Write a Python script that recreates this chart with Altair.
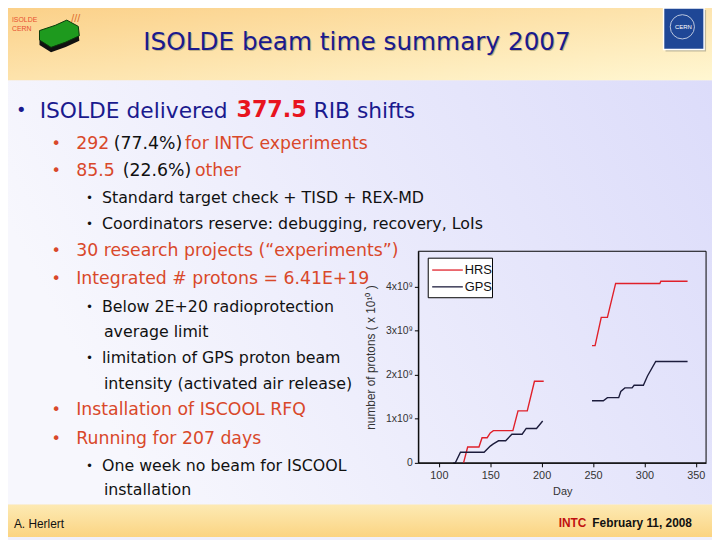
import altair as alt
import pandas as pd

# ---------------- data ----------------
hrs_a_day = [124, 128, 139, 142, 147, 150, 153, 172, 177, 186, 193, 202]
hrs_a_val = [0.0, 0.36, 0.36, 0.57, 0.57, 0.68, 0.73, 0.73, 1.18, 1.18, 1.85, 1.85]
hrs_b_day = [249, 252, 258, 264, 272, 315, 316, 342]
hrs_b_val = [2.66, 2.66, 3.30, 3.30, 4.07, 4.07, 4.12, 4.12]
gps_a_day = [114, 116, 121, 144, 150, 153, 158, 165, 171, 181, 185, 195, 201]
gps_a_val = [0.0, 0.0, 0.24, 0.24, 0.38, 0.43, 0.50, 0.50, 0.65, 0.65, 0.78, 0.78, 0.95]
gps_b_day = [249, 260, 264, 275, 277, 281, 288, 290, 299, 303, 311, 342]
gps_b_val = [1.41, 1.41, 1.48, 1.48, 1.62, 1.70, 1.70, 1.76, 1.76, 1.97, 2.30, 2.30]

series_names = ["HRS", "GPS"]
series_colors = ["#e0202a", "#1c1c3c"]
x_ticks = [100, 150, 200, 250, 300, 350]
y_ticks = [0, 1, 2, 3, 4]

rows = []
for s, seg, days, vals in [("HRS", "a", hrs_a_day, hrs_a_val), ("HRS", "b", hrs_b_day, hrs_b_val),
                           ("GPS", "a", gps_a_day, gps_a_val), ("GPS", "b", gps_b_day, gps_b_val)]:
    for d, v in zip(days, vals):
        rows.append({"series": s, "seg": s + seg, "day": d, "protons": v})
df = pd.DataFrame(rows)

# ---------------- layout helpers (page coordinates) ----------------
PX, PY = 423, 251   # plot origin on page
W, H = 291, 214
one = pd.DataFrame({"k": [0]})

NAVY = "#1a1a8e"
ORANGE = "#d9482a"
RED = "#e8141e"
SANS = "DejaVu Sans"
ARIAL = "Liberation Sans"


def X(px):
    return px - PX


def Y(py):
    return py - PY


def text(s, x, y, size, color, weight="normal", font=SANS, align="left"):
    return alt.Chart(one).mark_text(text=s, fontSize=size, color=color, fontWeight=weight,
                                    font=font, align=align, baseline="middle").encode(
        x=alt.value(X(x)), y=alt.value(Y(y)))


def rect(x1, y1, x2, y2, color, **kw):
    return alt.Chart(one).mark_rect(color=color, **kw).encode(
        x=alt.value(X(x1)), x2=alt.value(X(x2)), y=alt.value(Y(y1)), y2=alt.value(Y(y2)))


def grad(c0, c1, x1=0, y1=0, x2=1, y2=0):
    return alt.LinearGradient(gradient="linear", x1=x1, y1=y1, x2=x2, y2=y2,
                              stops=[alt.GradientStop(color=c0, offset=0),
                                     alt.GradientStop(color=c1, offset=1)])


layers = []
# backgrounds
layers.append(rect(0, 78, 720, 507, grad("#f7f7fd", "#dcdcfa", 0, 0.3, 1, 0)))
layers.append(rect(0, 0, 720, 78, grad("#fbcf86", "#fff7d2", 0, 0, 1, 1)))
layers.append(rect(0, 507, 720, 540, grad("#fdeab4", "#fbd482", 0, 0, 0, 1)))

# logos
layers.append(text("ISOLDE", 12, 17, 7, "#e85030", font=ARIAL))
layers.append(text("CERN", 12, 26, 7, "#e85030", font=ARIAL))
layers.append(text("///", 72, 16, 11, "#e07030", font=ARIAL))
slab = "M -0.95 -0.15 L -0.2 -0.4 L 0.35 -0.65 L 0.9 -0.35 L 0.95 0.1 L 0.3 0.4 L -0.4 0.65 L -0.95 0.3 Z"
layers.append(alt.Chart(one).mark_point(shape=slab, size=1800, filled=True, fill="#111111",
                                         opacity=1).encode(
    x=alt.value(X(60)), y=alt.value(Y(36))))
layers.append(alt.Chart(one).mark_point(shape=slab, size=1800, filled=True, fill="#1e9a1e",
                                         stroke="#0a3a0a", strokeWidth=1, opacity=1).encode(
    x=alt.value(X(60)), y=alt.value(Y(31))))
layers.append(rect(673, 7, 714, 49, "#c0b89a"))
layers.append(rect(671, 5, 712, 47, "#1f4796", stroke="white", strokeWidth=1.5))
layers.append(alt.Chart(one).mark_point(shape="circle", size=600, stroke="white",
                                         strokeWidth=1, filled=False).encode(
    x=alt.value(X(690)), y=alt.value(Y(24))))
layers.append(text("CERN", 691, 24, 6, "white", font=ARIAL, align="center"))

# title
title = "ISOLDE beam time summary 2007"
layers.append(text(title, 362, 40, 25, "#c4b384", align="center"))
layers.append(text(title, 361, 39, 25, NAVY, align="center"))

# slide bullets
layers += [
    text("•", 16, 109, 18, NAVY),
    text("ISOLDE delivered", 40, 109, 22, NAVY),
    text("377.5", 239, 108, 22.5, RED, weight="bold"),
    text("RIB shifts", 317, 109, 22, NAVY),

    text("•", 52, 143, 16, ORANGE),
    text("292", 77, 143, 17.5, ORANGE),
    text("(77.4%)", 115, 143, 17.5, "#111111"),
    text("for INTC experiments", 187, 143, 17.5, ORANGE),
    text("•", 52, 170, 16, ORANGE),
    text("85.5", 77, 170, 17.5, ORANGE),
    text("(22.6%)", 124, 170, 17.5, "#111111"),
    text("other", 197, 170, 17.5, ORANGE),

    text("•", 87, 197, 12, "#111111"),
    text("Standard target check + TISD + REX-MD", 103, 197, 16, "#111111"),
    text("•", 87, 223, 12, "#111111"),
    text("Coordinators reserve: debugging, recovery, LoIs", 103, 223, 16, "#111111"),

    text("•", 52, 251, 16, ORANGE),
    text("30 research projects (“experiments”)", 77, 251, 17.5, ORANGE),
    text("•", 52, 279, 16, ORANGE),
    text("Integrated # protons = 6.41E+19", 77, 279, 17.5, ORANGE),

    text("•", 87, 307, 12, "#111111"),
    text("Below 2E+20 radioprotection", 103, 307, 16, "#111111"),
    text("average limit", 105, 333, 16, "#111111"),
    text("•", 87, 359, 12, "#111111"),
    text("limitation of GPS proton beam", 103, 359, 16, "#111111"),
    text("intensity (activated air release)", 105, 385, 16, "#111111"),

    text("•", 52, 412, 16, ORANGE),
    text("Installation of ISCOOL RFQ", 77, 412, 17.5, ORANGE),
    text("•", 52, 441, 16, ORANGE),
    text("Running for 207 days", 77, 441, 17.5, ORANGE),

    text("•", 87, 468, 12, "#111111"),
    text("One week no beam for ISCOOL", 103, 468, 16, "#111111"),
    text("installation", 105, 493, 16, "#111111"),

    text("A. Herlert", 14, 527, 12, "#111111", font=ARIAL),
    text("INTC", 565, 526, 12, "#c01010", weight="bold", font=ARIAL),
    text("February 11, 2008", 599, 526, 12, "#111111", weight="bold", font=ARIAL),
]

# plot frame
layers.append(alt.Chart(one).mark_rect(fillOpacity=0, stroke="black", strokeWidth=1).encode(
    x=alt.value(0), x2=alt.value(W), y=alt.value(0), y2=alt.value(H)))

# data lines
lines = alt.Chart(df).mark_line(strokeWidth=1.4).encode(
    x=alt.X("day:Q", scale=alt.Scale(domain=[80, 360], nice=False, zero=False),
            axis=alt.Axis(values=x_ticks, title="Day", grid=False, domainColor="black",
                          tickColor="black", tickSize=4, labelFont=ARIAL, labelFontSize=11,
                          labelColor="#333333", labelPadding=3, titleFont=ARIAL,
                          titleFontSize=11, titleFontWeight="normal", titleColor="#333333",
                          titlePadding=5, zindex=1)),
    y=alt.Y("protons:Q", scale=alt.Scale(domain=[0, 4.8], nice=False),
            axis=alt.Axis(values=y_ticks, title="number of protons ( x 10¹⁰ )", grid=False,
                          labelExpr="datum.value == 0 ? '0' : datum.value + 'x10⁹'",
                          domainColor="black", tickColor="black", tickSize=4, labelFont=ARIAL,
                          labelFontSize=10.5, labelColor="#333333", labelPadding=2,
                          titleFont=ARIAL, titleFontSize=12, titleFontWeight="normal",
                          titleColor="#333333", titlePadding=8, zindex=1)),
    color=alt.Color("series:N", scale=alt.Scale(domain=series_names, range=series_colors),
                    legend=None),
    detail="seg:N",
    order="day:Q",
)
layers.append(lines)

# legend box
layers.append(rect(433, 258, 498, 298, "white", stroke="black", strokeWidth=1))
for i, (nm, col) in enumerate(zip(series_names, series_colors)):
    yy = 270 + 17 * i
    layers.append(alt.Chart(one).mark_rule(color=col, strokeWidth=1.3).encode(
        x=alt.value(X(437)), x2=alt.value(X(468)), y=alt.value(Y(yy))))
    layers.append(text(nm, 470, yy, 13, "#111111", font=ARIAL))

chart = alt.layer(*layers).properties(
    width=W, height=H,
    padding={"left": PX - 8, "top": PY - 8, "right": 712 - (PX - 8) - W, "bottom": 532 - (PY - 8) - H},
    autosize=alt.AutoSizeParams(type="none"),
    background="#f0f0fc",
).configure_view(stroke=None)

chart.save("out.html", embed_options={"renderer": "svg", "actions": False})
